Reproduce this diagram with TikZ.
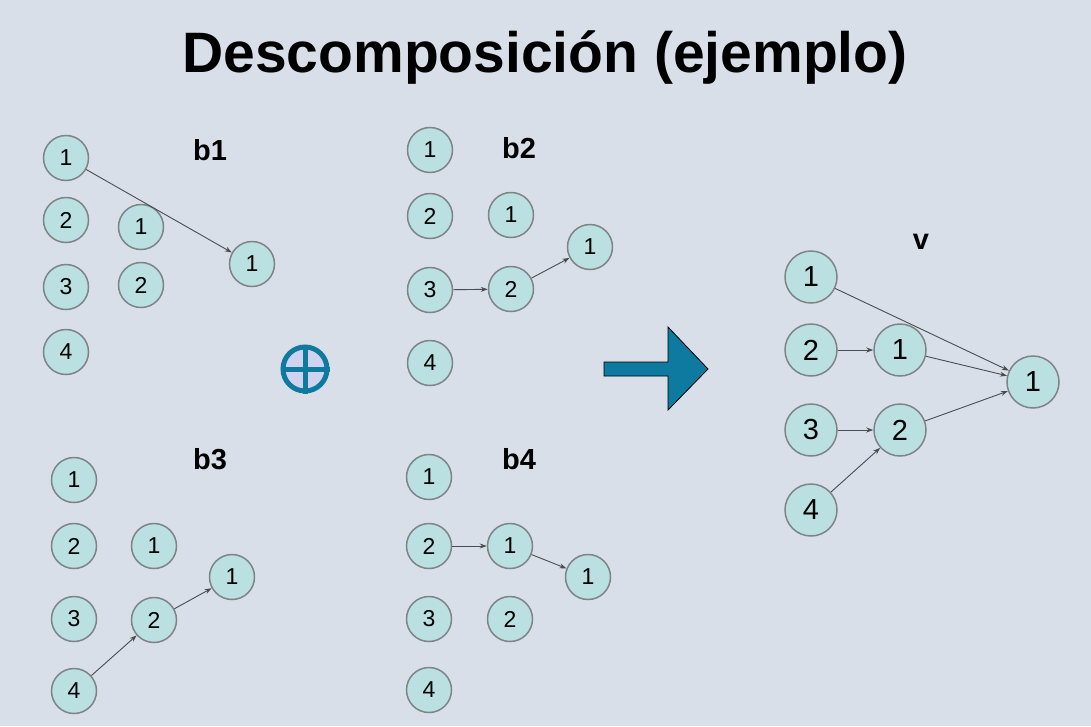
\documentclass[tikz,border=0pt]{standalone}
\usepackage{fontspec}
\setmainfont{Liberation Sans}
\usetikzlibrary{arrows.meta}
\definecolor{bg}{HTML}{D9DFE8}
\definecolor{nodefill}{HTML}{BAE0E1}
\definecolor{nodeline}{HTML}{7E8486}
\definecolor{edgecol}{HTML}{4A4D50}
\definecolor{teal}{HTML}{0F7AA0}
\definecolor{lav}{HTML}{D0D3EF}
\tikzset{
  vert/.style={circle, draw=nodeline, line width=1.5pt, fill=nodefill, minimum size=45pt, inner sep=0pt, font=\fontsize{23}{23}\selectfont},
  bigvert/.style={vert, minimum size=52pt, font=\fontsize{29}{29}\selectfont},
  edge/.style={draw=edgecol, line width=0.9pt, -{Stealth[length=7pt,width=5pt]}},
  blabel/.style={font=\fontsize{29}{29}\selectfont\bfseries},
}
\begin{document}
\begin{tikzpicture}[x=1pt,y=-1pt]
\useasboundingbox (0,0) rectangle (1091,726);
\fill[bg] (0,0) rectangle (1091,726);

\node[font=\fontsize{57}{57}\selectfont\bfseries] (title) at (545,58) {Descomposición (ejemplo)};

% b1
\node[blabel] (lb1) at (210,150) {b1};
\node[vert] (a1) at (66,158) {1};
\node[vert] (a2) at (66,220) {2};
\node[vert] (a3) at (66,287) {3};
\node[vert] (a4) at (66,352) {4};
\node[vert] (am1) at (141,227) {1};
\node[vert] (am2) at (141,285) {2};
\node[vert] (ao1) at (252,264) {1};
\draw[edge] (a1) -- (ao1);

% b2
\node[blabel] (lb2) at (519,148) {b2};
\node[vert] (b1) at (430,150) {1};
\node[vert] (b2) at (430,216) {2};
\node[vert] (b3) at (430,290) {3};
\node[vert] (b4) at (430,363) {4};
\node[vert] (bm1) at (511,215) {1};
\node[vert] (bm2) at (511,289) {2};
\node[vert] (bo1) at (590,247) {1};
\draw[edge] (b3) -- (bm2);
\draw[edge] (bm2) -- (bo1);

% b3
\node[blabel] (lb3) at (210,459) {b3};
\node[vert] (c1) at (74,480) {1};
\node[vert] (c2) at (74,546) {2};
\node[vert] (c3) at (74,619) {3};
\node[vert] (c4) at (74,691) {4};
\node[vert] (cm1) at (154,546) {1};
\node[vert] (cm2) at (154,620) {2};
\node[vert] (co1) at (232,577) {1};
\draw[edge] (c4) -- (cm2);
\draw[edge] (cm2) -- (co1);

% b4
\node[blabel] (lb4) at (519,459) {b4};
\node[vert] (d1) at (429,477) {1};
\node[vert] (d2) at (429,546) {2};
\node[vert] (d3) at (429,619) {3};
\node[vert] (d4) at (429,690) {4};
\node[vert] (dm1) at (510,546) {1};
\node[vert] (dm2) at (510,619) {2};
\node[vert] (do1) at (588,577) {1};
\draw[edge] (d2) -- (dm1);
\draw[edge] (dm1) -- (do1);

% combination symbol
\node[circle, draw=teal, line width=5pt, fill=lav, minimum size=44pt, inner sep=0pt] (plus) at (305,369) {};
\draw[teal, line width=5pt] (plus.north) -- (plus.south) (plus.west) -- (plus.east);

% big arrow
\draw[draw=black, line width=0.8pt, fill=teal]
  (604,362) -- (668,362) -- (668,327) -- (708,369) -- (668,410) -- (668,376) -- (604,376) -- cycle;

% result v
\node[blabel] (lv) at (921,242) {v};
\node[bigvert] (v1) at (811,277) {1};
\node[bigvert] (v2) at (811,350) {2};
\node[bigvert] (v3) at (811,430) {3};
\node[bigvert] (v4) at (811,510) {4};
\node[bigvert] (vm1) at (900,350) {1};
\node[bigvert] (vm2) at (900,430) {2};
\node[bigvert] (vo1) at (1033,382) {1};
\draw[edge] (v1) -- (vo1);
\draw[edge] (v2) -- (vm1);
\draw[edge] (vm1) -- (vo1);
\draw[edge] (v3) -- (vm2);
\draw[edge] (v4) -- (vm2);
\draw[edge] (vm2) -- (vo1);
\end{tikzpicture}
\end{document}
